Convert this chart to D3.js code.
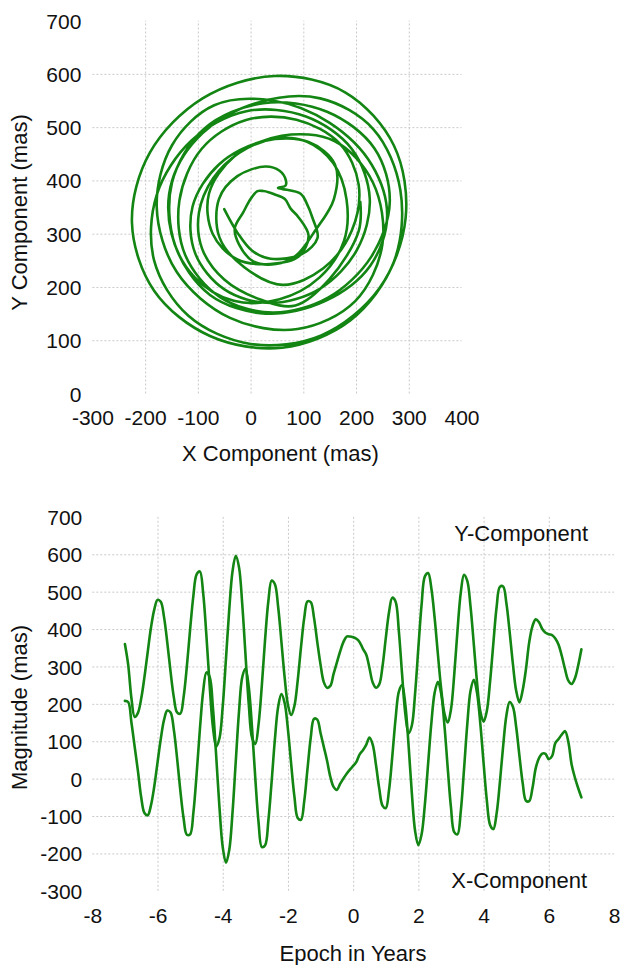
<!DOCTYPE html>
<html>
<head>
<meta charset="utf-8">
<script src="https://cdn.jsdelivr.net/npm/d3@7/dist/d3.min.js"></script>
<style>
  html, body { margin: 0; padding: 0; background: #fff; }
  svg { display: block; }
  text { font-family: "Liberation Sans", Arial, Helvetica, sans-serif; fill: #111; }
</style>
</head>
<body>
<svg id="chart" width="620" height="965"></svg>
<script>
// ---------- DATA ----------
const epochs = [
  -7.0,-6.9,-6.8,-6.7,-6.6,-6.5,-6.4,-6.3,-6.2,-6.1,
  -6.0,-5.9,-5.8,-5.7,-5.6,-5.5,-5.4,-5.3,-5.2,-5.1,
  -5.0,-4.9,-4.8,-4.7,-4.6,-4.5,-4.4,-4.3,-4.2,-4.1,
  -4.0,-3.9,-3.8,-3.7,-3.6,-3.5,-3.4,-3.3,-3.2,-3.1,
  -3.0,-2.9,-2.8,-2.7,-2.6,-2.5,-2.4,-2.3,-2.2,-2.1,
  -2.0,-1.9,-1.8,-1.7,-1.6,-1.5,-1.4,-1.3,-1.2,-1.1,
  -1.0,-0.9,-0.8,-0.7,-0.6,-0.5,-0.4,-0.3,-0.2,-0.1,
  0.0,0.1,0.2,0.3,0.4,0.5,0.6,0.7,0.8,0.9,
  1.0,1.1,1.2,1.3,1.4,1.5,1.6,1.7,1.8,1.9,
  2.0,2.1,2.2,2.3,2.4,2.5,2.6,2.7,2.8,2.9,
  3.0,3.1,3.2,3.3,3.4,3.5,3.6,3.7,3.8,3.9,
  4.0,4.1,4.2,4.3,4.4,4.5,4.6,4.7,4.8,4.9,
  5.0,5.1,5.2,5.3,5.4,5.5,5.6,5.7,5.8,5.9,
  6.0,6.1,6.2,6.3,6.4,6.5,6.6,6.7,6.8,6.9,
  7.0
];

// X component of polar motion (mas)
const xComponent = [
  208,205,150,85,20,-50,-92,-98,-71,-21,
  43,106,157,182,177,131,55,-32,-106,-150,
  -149,-91,13,132,233,284,272,189,60,-77,
  -183,-225,-191,-91,46,180,272,294,244,134,
  0,-118,-183,-178,-112,-8,105,192,226,202,
  132,38,-49,-105,-110,-60,26,110,160,158,
  122,85,48,5,-22,-30,-14,0,13,24,
  34,45,65,76,90,110,91,37,-26,-72,
  -79,-31,59,159,232,250,198,89,-39,-140,
  -178,-149,-69,41,150,230,259,227,142,29,
  -77,-143,-149,-88,24,145,235,264,229,147,
  42,-58,-124,-135,-93,-10,87,169,205,192,
  138,61,-12,-59,-60,-25,28,55,67,66,
  52,60,95,106,118,127,98,38,3,-25,
  -50
];

// Y component of polar motion (mas)
const yComponent = [
  360,305,215,165,176,214,272,339,404,452,
  478,473,432,364,286,218,177,174,218,300,
  399,489,546,554,496,382,248,137,86,108,
  193,321,452,554,596,565,465,329,197,109,
  93,146,250,373,475,530,520,459,366,270,
  197,170,195,263,351,430,474,472,430,365,
  305,258,243,248,280,310,340,365,380,380,
  378,374,365,347,332,296,257,243,252,300,
  375,445,484,474,396,280,173,121,142,228,
  350,466,541,550,508,429,332,240,174,150,
  185,278,396,497,545,529,460,360,257,180,
  152,181,260,362,459,513,514,469,392,306,
  235,204,237,293,365,408,426,418,400,390,
  386,384,375,358,328,292,262,253,268,302,
  346
];

// Tick labels
const topXTicks = [-300,-200,-100,0,100,200,300,400];
const topYTicks = [0,100,200,300,400,500,600,700];
const botXTicks = [-8,-6,-4,-2,0,2,4,6,8];
const botYTicks = [-300,-200,-100,0,100,200,300,400,500,600,700];

// ---------- DRAWING ----------
const svg = d3.select("#chart");
const lineColor = "#128512";
const gridColor = "#c9c9c9";
const lineWidth = 2.6;
const fmt = d => String(d);

const points = epochs.map((t, i) => ({ t: t, x: xComponent[i], y: yComponent[i] }));

function drawPanel(cfg) {
  const g = svg.append("g");
  const xs = cfg.xScale, ys = cfg.yScale;
  const xd = xs.domain(), yd = ys.domain();
  const [x0, x1] = xs.range();
  const [y0, y1] = ys.range();

  const gx = g.append("g").attr("transform", `translate(0,${y0})`)
    .call(d3.axisBottom(xs).tickValues(cfg.xTicks.filter(v => v !== xd[0] && v !== xd[1]))
      .tickSize(-(y0 - y1)).tickFormat(""));
  const gy = g.append("g").attr("transform", `translate(${x0},0)`)
    .call(d3.axisLeft(ys).tickValues(cfg.yTicks.filter(v => v !== yd[0] && v !== yd[1]))
      .tickSize(-(x1 - x0)).tickFormat(""));
  [gx, gy].forEach(a => {
    a.select(".domain").remove();
    a.selectAll("line").attr("stroke", gridColor).attr("stroke-width", 1)
      .attr("stroke-dasharray", "2,2");
  });

  const lx = g.append("g").attr("transform", `translate(0,${y0})`)
    .call(d3.axisBottom(xs).tickValues(cfg.xTicks).tickSize(0).tickPadding(17).tickFormat(fmt));
  const ly = g.append("g").attr("transform", `translate(${x0},0)`)
    .call(d3.axisLeft(ys).tickValues(cfg.yTicks).tickSize(0).tickPadding(cfg.yPad).tickFormat(fmt));
  [lx, ly].forEach(a => {
    a.select(".domain").remove();
    a.selectAll("text").attr("font-size", 21).attr("fill", "#111")
      .attr("font-family", '"Liberation Sans", Arial, sans-serif');
  });
  ly.selectAll("text").attr("dy", "0.36em");
  return g;
}

// Top panel: Y vs X
const topX = d3.scaleLinear().domain([-300, 400]).range([92.4, 461.5]);
const topY = d3.scaleLinear().domain([0, 700]).range([393.5, 20.6]);
const gTop = drawPanel({ xScale: topX, yScale: topY, xTicks: topXTicks, yTicks: topYTicks, yPad: 11 });

gTop.append("path")
  .datum(points)
  .attr("fill", "none")
  .attr("stroke", lineColor)
  .attr("stroke-width", lineWidth)
  .attr("stroke-linejoin", "round")
  .attr("stroke-linecap", "round")
  .attr("d", d3.line().x(d => topX(d.x)).y(d => topY(d.y)).curve(d3.curveCatmullRom.alpha(0.5)));

gTop.append("text").attr("x", 280.5).attr("y", 461).attr("text-anchor", "middle")
  .attr("font-size", 22).text("X Component (mas)");
gTop.append("text").attr("transform", "translate(27,212.5) rotate(-90)")
  .attr("text-anchor", "middle").attr("font-size", 22).text("Y Component (mas)");

// Bottom panel: components vs epoch
const botX = d3.scaleLinear().domain([-8, 8]).range([92.3, 614]);
const botY = d3.scaleLinear().domain([-300, 700]).range([890.8, 516.9]);
const gBot = drawPanel({ xScale: botX, yScale: botY, xTicks: botXTicks, yTicks: botYTicks, yPad: 10 });

const tsLine = key => d3.line().x(d => botX(d.t)).y(d => botY(d[key])).curve(d3.curveCatmullRom.alpha(0.5));
["x", "y"].forEach(k => {
  gBot.append("path")
    .datum(points)
    .attr("fill", "none")
    .attr("stroke", lineColor)
    .attr("stroke-width", lineWidth)
    .attr("stroke-linejoin", "round")
    .attr("stroke-linecap", "round")
    .attr("d", tsLine(k));
});

gBot.append("text").attr("x", 588).attr("y", 541).attr("text-anchor", "end")
  .attr("font-size", 22).text("Y-Component");
gBot.append("text").attr("x", 587).attr("y", 888).attr("text-anchor", "end")
  .attr("font-size", 22).text("X-Component");

gBot.append("text").attr("x", 353).attr("y", 961).attr("text-anchor", "middle")
  .attr("font-size", 22).text("Epoch in Years");
gBot.append("text").attr("transform", "translate(27,707.5) rotate(-90)")
  .attr("text-anchor", "middle").attr("font-size", 22).text("Magnitude (mas)");
</script>
</body>
</html>
